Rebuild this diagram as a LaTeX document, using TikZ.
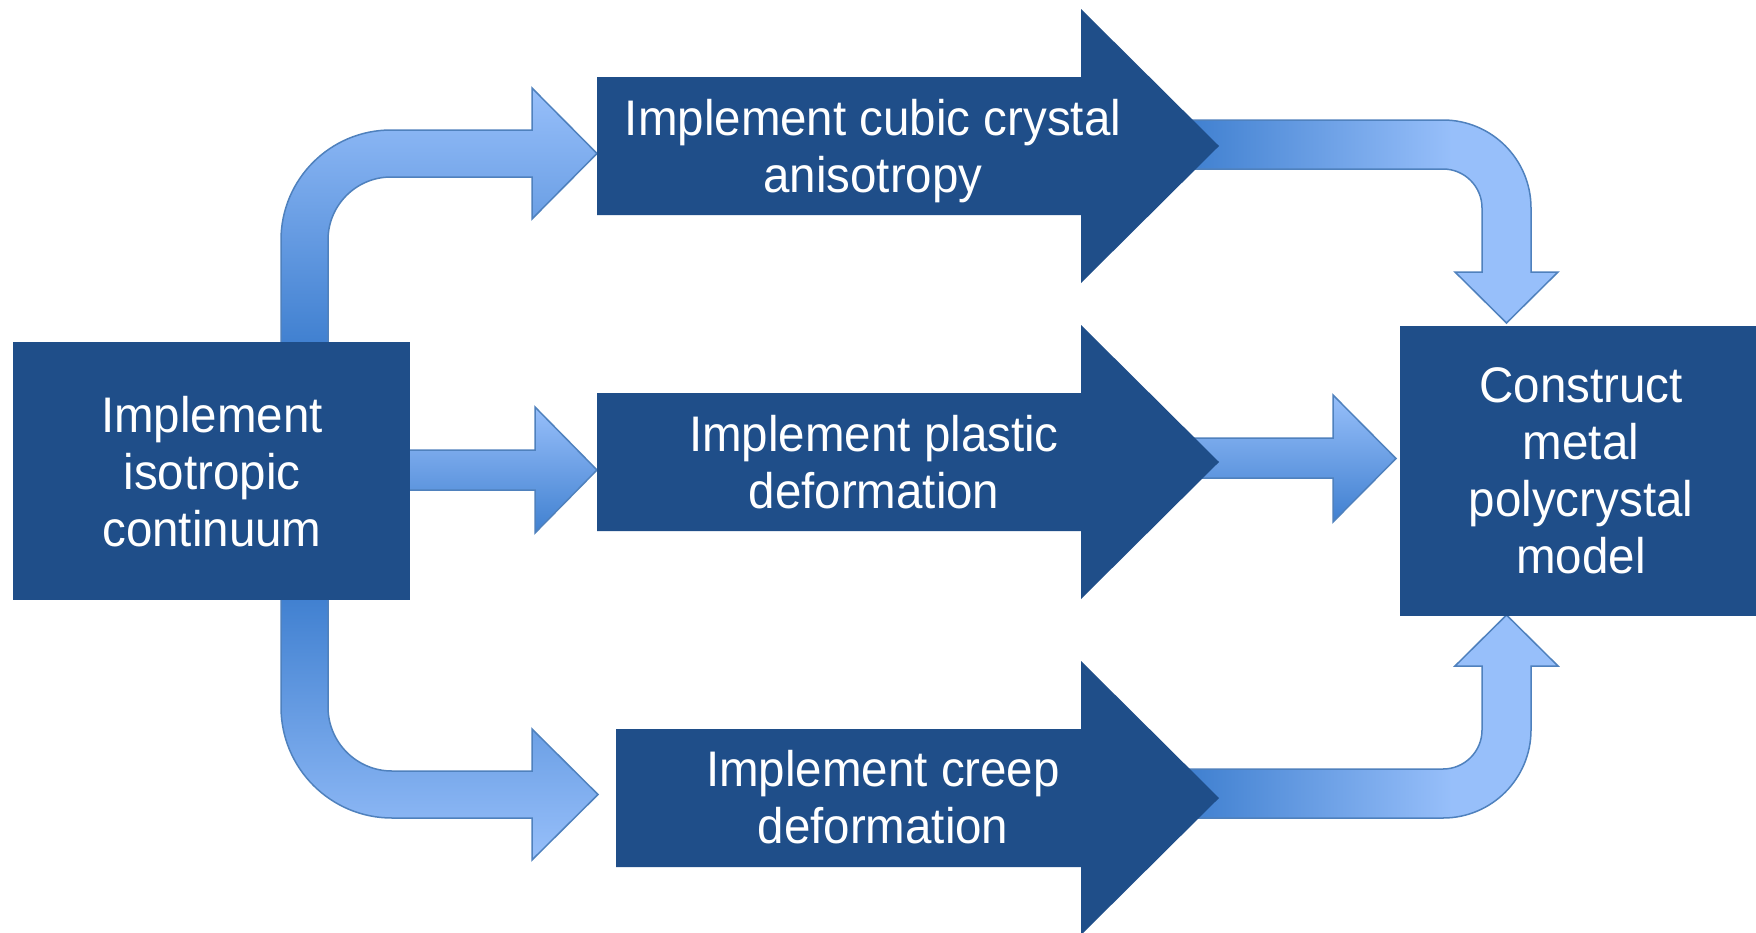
\documentclass[tikz,border=0pt]{standalone}
\usepackage{fontspec}
\newfontfamily\arialx{Liberation Sans}[FakeStretch=0.95]
\definecolor{darkb}{HTML}{1F4E89}
\definecolor{ltb}{HTML}{97BFFA}
\definecolor{mdb}{HTML}{4080D0}
\definecolor{edgeb}{HTML}{4F81BD}
\pgfdeclarehorizontalshading{rgrad}{100bp}{color(0bp)=(mdb); color(30bp)=(mdb); color(62bp)=(ltb); color(100bp)=(ltb)}
\tikzset{
  darkshape/.style={fill=darkb, draw=none},
  lightarrow/.style={draw=edgeb, line width=1.5pt, line join=miter},
  vdown/.style={lightarrow, top color=ltb, bottom color=mdb},
  vup/.style={lightarrow, top color=mdb, bottom color=ltb},
  hgrad/.style={lightarrow, shading=rgrad},
  boxtext/.style={text=white, font=\arialx\fontsize{50}{57}\selectfont, align=center, inner sep=0pt},
}
\begin{document}
\begin{tikzpicture}[x=1pt,y=1pt]
\useasboundingbox (0,0) rectangle (1756,-932);
\fill[white] (0,0) rectangle (1756,-932);

% light connector arrows (behind)
% top-left bent arrow
\shadedraw[vdown] (281,-345) -- (281,-240) arc[start angle=180,end angle=90,radius=110]
  -- (532,-130) -- (532,-88) -- (597,-153.5) -- (532,-219) -- (532,-177)
  -- (391,-177) arc[start angle=90,end angle=180,radius=63] -- (328,-345) -- cycle;
% middle-left straight arrow
\shadedraw[vdown] (400,-450) -- (535,-450) -- (535,-407) -- (597,-470) -- (535,-533)
  -- (535,-490) -- (400,-490) -- cycle;
% bottom-left bent arrow
\shadedraw[vup] (281,-596) -- (281,-707) arc[start angle=180,end angle=270,radius=111]
  -- (532,-818) -- (532,-860) -- (598,-794.5) -- (532,-729) -- (532,-771)
  -- (392,-771) arc[start angle=270,end angle=180,radius=64] -- (328,-596) -- cycle;
% top-right bent arrow
\shadedraw[hgrad] (1150,-120) -- (1443,-120) arc[start angle=90,end angle=0,radius=88]
  -- (1531,-272) -- (1558,-272) -- (1506.5,-323) -- (1455,-272) -- (1482,-272)
  -- (1482,-208) arc[start angle=0,end angle=90,radius=39] -- (1150,-169) -- cycle;
% middle-right straight arrow
\shadedraw[vdown] (1150,-438) -- (1333,-438) -- (1333,-395) -- (1396,-458.5) -- (1333,-522)
  -- (1333,-478) -- (1150,-478) -- cycle;
% bottom-right bent arrow
\shadedraw[hgrad] (1150,-818) -- (1443,-818) arc[start angle=270,end angle=360,radius=88]
  -- (1531,-666) -- (1558,-666) -- (1506.5,-615) -- (1455,-666) -- (1482,-666)
  -- (1482,-730) arc[start angle=0,end angle=-90,radius=39] -- (1150,-769) -- cycle;

% dark blocks
\fill[darkshape] (13,-342) rectangle (410,-600);
\fill[darkshape] (1400,-326) rectangle (1756,-616);
\fill[darkshape] (597,-77) -- (1081,-77) -- (1081,-9) -- (1219,-146) -- (1081,-283)
  -- (1081,-215) -- (597,-215) -- cycle;
\fill[darkshape] (597,-393) -- (1081,-393) -- (1081,-325) -- (1219,-462) -- (1081,-599)
  -- (1081,-531) -- (597,-531) -- cycle;
\fill[darkshape] (616,-729) -- (1081,-729) -- (1081,-661) -- (1219,-798) -- (1081,-935)
  -- (1081,-867) -- (616,-867) -- cycle;

% texts
\node[boxtext] (iso) at (212,-471.5) {Implement\\isotropic\\continuum};
\node[boxtext] (cubic) at (873,-151) {Implement cubic crystal\\anisotropy};
\node[boxtext] (plastic) at (874,-462) {Implement plastic\\deformation};
\node[boxtext] (creep) at (883,-797) {Implement creep\\deformation};
\node[boxtext] (model) at (1581,-470.5) {Construct\\metal\\polycrystal\\model};
\end{tikzpicture}
\end{document}
